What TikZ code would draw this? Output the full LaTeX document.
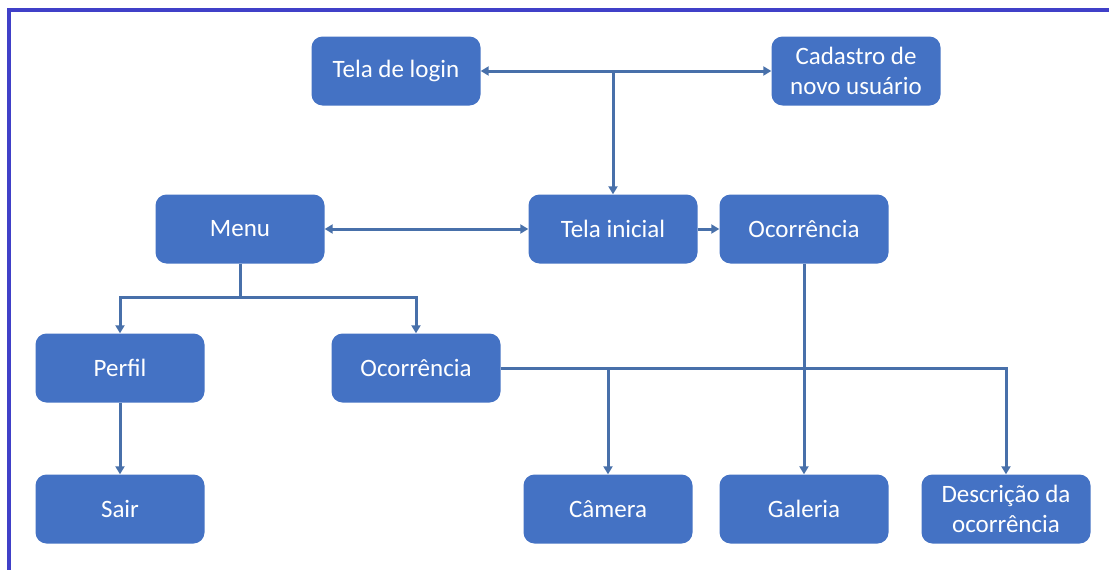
\documentclass[tikz,border=0pt]{standalone}
\usepackage{fontspec}
\setmainfont{Carlito}
\usetikzlibrary{arrows.meta}
\definecolor{boxblue}{RGB}{68,114,196}
\definecolor{linecol}{RGB}{72,112,170}
\definecolor{framecol}{RGB}{64,64,200}
\tikzset{
  stepbox/.style={rectangle, rounded corners=11pt, fill=boxblue, draw=none,
    minimum width=169pt, minimum height=69pt, inner sep=2pt,
    text=white, font=\fontsize{25}{30}\selectfont, align=center},
  conn/.style={draw=linecol, line width=3pt,
    -{Triangle[width=9pt,length=8pt]}},
  conn2/.style={draw=linecol, line width=3pt,
    {Triangle[width=9pt,length=8pt]}-{Triangle[width=9pt,length=8pt]}},
  plain/.style={draw=linecol, line width=3pt}
}
\begin{document}
\begin{tikzpicture}[x=1pt,y=-1pt]
\useasboundingbox (0,0) rectangle (1109,570);
\fill[white] (0,0) rectangle (1109,570);
\draw[framecol, line width=4pt] (9,570) -- (9,10) -- (1109,10);

\node[stepbox] (login) at (396,71) {Tela de login};
\node[stepbox] (cad) at (856,71) {Cadastro de\\novo usuário};
\node[stepbox] (menu) at (240,229) {Menu};
\node[stepbox] (ini) at (613,229) {Tela inicial};
\node[stepbox] (oc1) at (804,229) {Ocorrência};
\node[stepbox] (perfil) at (120,368) {Perfil};
\node[stepbox] (oc2) at (416,368) {Ocorrência};
\node[stepbox] (sair) at (120,509) {Sair};
\node[stepbox] (cam) at (608,509) {Câmera};
\node[stepbox] (gal) at (804,509) {Galeria};
\node[stepbox] (desc) at (1006,509) {Descrição da\\ocorrência};

\coordinate (j1) at (613,71);
\coordinate (mj) at (240,297);

\draw[conn2] (login.east) -- (cad.west);
\draw[conn] (j1) -- (ini.north);
\draw[conn2] (menu.east) -- (ini.west);
\draw[conn] (ini.east) -- (oc1.west);
\draw[plain] (menu.south) -- (mj);
\draw[conn] (mj) -| (perfil.north);
\draw[conn] (mj) -| (oc2.north);
\draw[conn] (perfil.south) -- (sair.north);
\draw[conn] (oc2.east) -| (desc.north);
\draw[conn] (cam.north |- oc2.east) -- (cam.north);
\draw[conn] (oc1.south) -- (gal.north);
\end{tikzpicture}
\end{document}
